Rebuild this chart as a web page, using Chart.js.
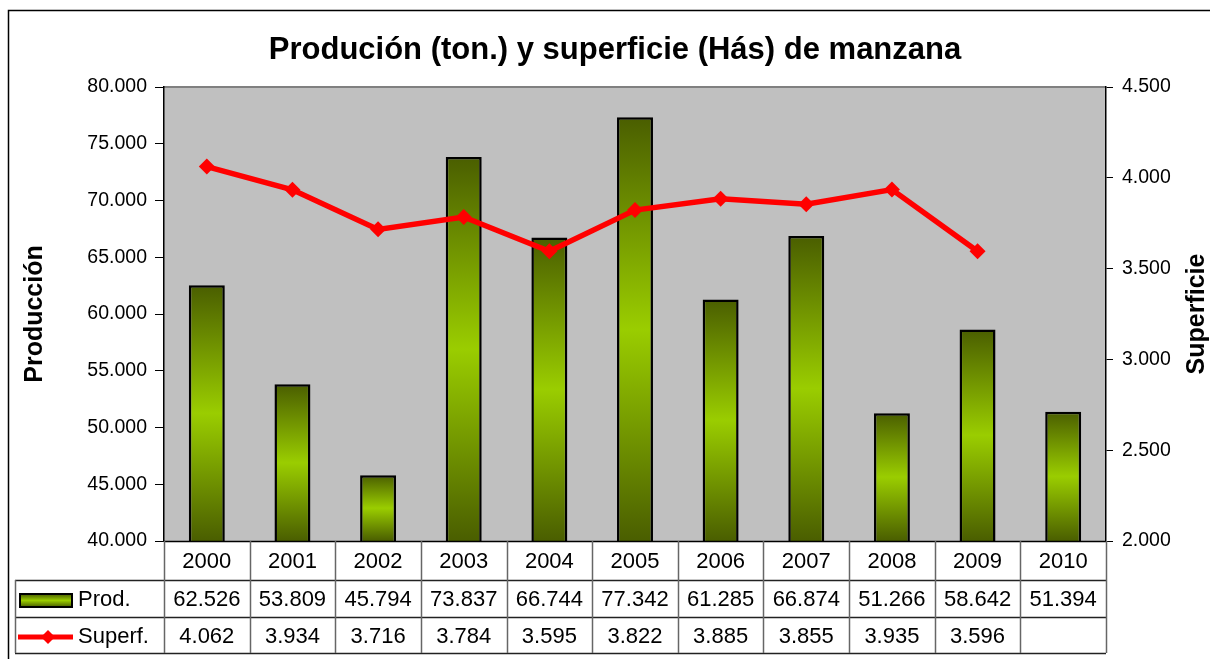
<!DOCTYPE html>
<html>
<head>
<meta charset="utf-8">
<script src="https://cdn.jsdelivr.net/npm/chart.js@4"></script>
<style>
  html, body { margin: 0; padding: 0; background: #fff; }
  canvas { display: block; }
</style>
</head>
<body>
<canvas id="c" width="1210" height="659"></canvas>
<script>
const chartTitle = 'Produción (ton.) y superficie (Hás) de manzana';
const leftAxisTitle = 'Producción';
const rightAxisTitle = 'Superficie';
const categories = ['2000','2001','2002','2003','2004','2005','2006','2007','2008','2009','2010'];
const produccion = [62526, 53809, 45794, 73837, 66744, 77342, 61285, 66874, 51266, 58642, 51394];
const superficie = [4062, 3934, 3716, 3784, 3595, 3822, 3885, 3855, 3935, 3596, null];
const seriesNames = ['Prod.', 'Superf.'];
const leftAxis = { min: 40000, max: 80000, step: 5000 };
const rightAxis = { min: 2000, max: 4500, step: 500 };

const FONT = "'Liberation Sans', Arial, sans-serif";
function fmt(n) {
  if (n === null || n === undefined) return '';
  return String(n).replace(/\B(?=(\d{3})+(?!\d))/g, '.');
}
const DARK = '#4a5e00';
const BRIGHT = '#9acd00';

function barGradient(ctx2d, y0, y1) {
  const g = ctx2d.createLinearGradient(0, y0, 0, y1);
  g.addColorStop(0, DARK);
  g.addColorStop(0.5, BRIGHT);
  g.addColorStop(1, DARK);
  return g;
}

const decorPlugin = {
  id: 'decor',
  beforeDraw(chart) {
    const c = chart.ctx;
    const ca = chart.chartArea;
    c.save();
    c.fillStyle = '#fff';
    c.fillRect(0, 0, chart.width, chart.height);
    // outer frame
    c.strokeStyle = '#000';
    c.lineWidth = 1.5;
    c.beginPath();
    c.moveTo(8.5, chart.height + 2);
    c.lineTo(8.5, 10.5);
    c.lineTo(chart.width + 2, 10.5);
    c.stroke();
    // plot background
    c.fillStyle = '#c0c0c0';
    c.fillRect(ca.left, ca.top, ca.right - ca.left, ca.bottom - ca.top);
    // top border of plot
    c.strokeStyle = '#808080';
    c.lineWidth = 2;
    c.beginPath();
    c.moveTo(ca.left, ca.top);
    c.lineTo(ca.right, ca.top);
    c.stroke();
    // title
    c.fillStyle = '#000';
    c.font = 'bold 31px ' + FONT;
    c.textAlign = 'center';
    c.textBaseline = 'middle';
    c.fillText(chartTitle, 615, 50);
    // axis titles
    c.font = 'bold 25px ' + FONT;
    const midY = (ca.top + ca.bottom) / 2;
    c.save();
    c.translate(35, midY);
    c.rotate(-Math.PI / 2);
    c.fillText(leftAxisTitle, 0, 0);
    c.restore();
    c.save();
    c.translate(1197, midY);
    c.rotate(-Math.PI / 2);
    c.fillText(rightAxisTitle, 0, 0);
    c.restore();
    c.restore();
  },
  afterDraw(chart) {
    const c = chart.ctx;
    const ca = chart.chartArea;
    const xs = chart.scales.x;
    const n = categories.length;
    const colW = (ca.right - ca.left) / n;
    const rowBottom = 653;
    const tableLeft = 15;
    c.save();
    // x axis line
    c.strokeStyle = '#000';
    c.lineWidth = 1.5;
    c.beginPath();
    c.moveTo(ca.left, ca.bottom + 0.5);
    c.lineTo(ca.right, ca.bottom + 0.5);
    c.stroke();
    // horizontal table lines
    c.lineWidth = 1.5;
    c.strokeStyle = '#222';
    [580, 617, rowBottom].forEach(y => {
      c.beginPath();
      c.moveTo(tableLeft, y + 0.5);
      c.lineTo(ca.right, y + 0.5);
      c.stroke();
    });
    // vertical lines
    c.strokeStyle = '#666';
    for (let i = 0; i <= n; i++) {
      const x = Math.round(ca.left + i * colW) + 0.5;
      c.beginPath();
      c.moveTo(x, ca.bottom);
      c.lineTo(x, rowBottom);
      c.stroke();
    }
    c.beginPath();
    c.moveTo(tableLeft + 0.5, 580);
    c.lineTo(tableLeft + 0.5, rowBottom);
    c.stroke();

    // texts
    c.fillStyle = '#000';
    c.font = '22px ' + FONT;
    c.textAlign = 'center';
    c.textBaseline = 'middle';
    categories.forEach((cat, i) => {
      const x = xs.getPixelForValue(i);
      c.fillText(cat, x, 562);
      c.fillText(fmt(produccion[i]), x, 600);
      c.fillText(fmt(superficie[i]), x, 637);
    });
    // legend column
    c.textAlign = 'left';
    c.fillText(seriesNames[0], 78, 600);
    c.fillText(seriesNames[1], 78, 637);
    // prod symbol
    c.fillStyle = barGradient(c, 594, 607);
    c.fillRect(20, 594, 52, 13);
    c.strokeStyle = '#000';
    c.lineWidth = 2;
    c.strokeRect(20, 594, 52, 13);
    // superf symbol
    c.strokeStyle = '#ff0000';
    c.lineWidth = 5;
    c.beginPath();
    c.moveTo(18, 637);
    c.lineTo(73, 637);
    c.stroke();
    c.fillStyle = '#ff0000';
    c.beginPath();
    c.moveTo(48, 630); c.lineTo(55, 637); c.lineTo(48, 644); c.lineTo(41, 637);
    c.closePath();
    c.fill();
    c.restore();
  }
};

new Chart(document.getElementById('c'), {
  type: 'bar',
  data: {
    labels: categories,
    datasets: [
      {
        type: 'line',
        label: seriesNames[1],
        data: superficie,
        yAxisID: 'y1',
        borderColor: '#ff0000',
        backgroundColor: '#ff0000',
        borderWidth: 5.5,
        pointStyle: 'rectRot',
        pointRadius: 8,
        pointBorderWidth: 0,
        pointBackgroundColor: '#ff0000',
        tension: 0,
        fill: false,
        order: 0
      },
      {
        type: 'bar',
        label: seriesNames[0],
        data: produccion,
        yAxisID: 'y',
        borderColor: '#000',
        borderWidth: 2.5,
        borderSkipped: false,
        barPercentage: 0.42,
        categoryPercentage: 1,
        backgroundColor(ctx) {
          const ys = ctx.chart.scales.y;
          if (!ys || ctx.raw == null) return BRIGHT;
          const top = ys.getPixelForValue(ctx.raw);
          const bottom = ys.getPixelForValue(ys.min);
          if (!isFinite(top) || !isFinite(bottom) || top === bottom) return BRIGHT;
          return barGradient(ctx.chart.ctx, top, bottom);
        },
        order: 1
      }
    ]
  },
  options: {
    responsive: false,
    devicePixelRatio: 1,
    animation: false,
    layout: { padding: { top: 87, bottom: 118, left: 0, right: 0 } },
    plugins: {
      legend: { display: false },
      title: { display: false },
      tooltip: { enabled: false }
    },
    scales: {
      x: {
        display: false,
        offset: true
      },
      y: {
        position: 'left',
        min: leftAxis.min,
        max: leftAxis.max,
        afterFit(s) { s.width = 164; },
        ticks: {
          stepSize: leftAxis.step,
          color: '#000',
          font: { family: FONT, size: 19.5 },
          padding: 8,
          callback: v => fmt(v)
        },
        grid: { drawOnChartArea: false, drawTicks: true, tickLength: 9, color: '#000' },
        border: { display: true, color: '#000', width: 1.5 }
      },
      y1: {
        position: 'right',
        min: rightAxis.min,
        max: rightAxis.max,
        afterFit(s) { s.width = 104; },
        ticks: {
          stepSize: rightAxis.step,
          color: '#000',
          font: { family: FONT, size: 19.5 },
          padding: 9,
          callback: v => fmt(v)
        },
        grid: { drawOnChartArea: false, drawTicks: true, tickLength: 7, color: '#000' },
        border: { display: true, color: '#000', width: 1.5 }
      }
    }
  },
  plugins: [decorPlugin]
});
</script>
</body>
</html>
